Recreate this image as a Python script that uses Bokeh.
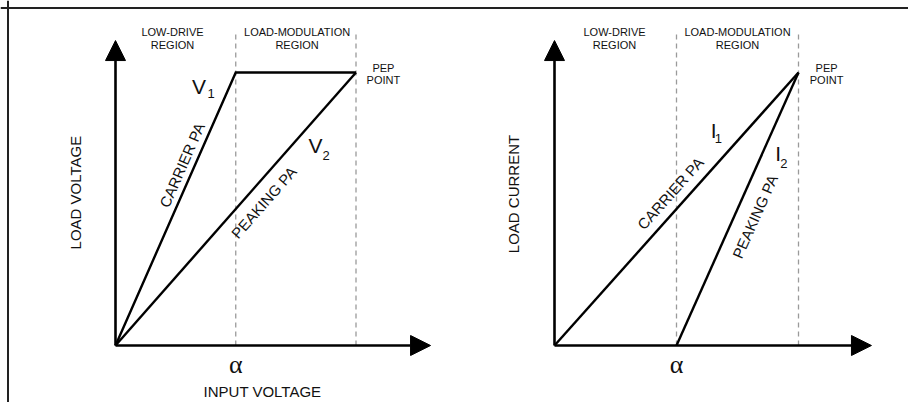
import math
from bokeh.plotting import figure
from bokeh.models import Range1d, Arrow, NormalHead, Span
from bokeh.embed import file_html
from bokeh.resources import INLINE
from bokeh.core.properties import value

# ---------------- data (normalised drive / load units) ----------------
ALPHA = 0.5          # transition point (input voltage)
PEP = 1.0            # peak-envelope-power point

left_carrier_x = [0.0, ALPHA, PEP]     # V1
left_carrier_y = [0.0, 1.0, 1.0]
left_peaking_x = [0.0, PEP]            # V2
left_peaking_y = [0.0, 1.0]

right_carrier_x = [0.0, PEP]           # I1
right_carrier_y = [0.0, 1.0]
right_peaking_x = [ALPHA, PEP]         # I2
right_peaking_y = [0.0, 1.0]

region_bounds = [ALPHA, PEP]
region_names = [["LOW-DRIVE", "REGION"], ["LOAD-MODULATION", "REGION"]]

# ---------------- layout ----------------
W, H = 908, 402
ORIG_L, ORIG_R, ORIG_Y = 115, 554, 57     # origins in canvas px (y from bottom)
UX_L, UX_R, UY = 240.5, 244.0, 273.0      # px per unit

x_left = Range1d(-ORIG_L / UX_L, (W - ORIG_L) / UX_L)
x_right = Range1d(-ORIG_R / UX_R, (W - ORIG_R) / UX_R)
y_rng = Range1d(-ORIG_Y / UY, (H - ORIG_Y) / UY)

p = figure(width=W, height=H, x_range=x_left, y_range=y_rng,
           output_backend="svg", toolbar_location=None,
           x_axis_location=None, y_axis_location=None, min_border=0)
p.extra_x_ranges = {"right": x_right}
p.grid.visible = False
p.outline_line_color = None
p.background_fill_color = "white"
p.border_fill_color = "white"

INK = "#111111"
SANS = value("Liberation Sans")
SERIF = value("Liberation Serif")

# frame lines of the picture (top and left)
p.add_layout(Span(location=(H - ORIG_Y - 7.5) / UY, dimension="width",
                  line_color="#222222", line_width=2))
p.add_layout(Span(location=(7.5 - ORIG_L) / UX_L, dimension="height",
                  line_color="#222222", line_width=2))


def angle(dx, dy, ux):
    return math.atan2(dy * UY, dx * ux)


panels = [
    dict(rn="default", ux=UX_L, xtip=1.31, ylabel="LOAD VOLTAGE", ylab_pos=(-0.166, 0.56),
         low_x=0.237, mod_x=0.755, pep_x=1.114,
         carrier=(left_carrier_x, left_carrier_y), peaking=(left_peaking_x, left_peaking_y),
         carrier_txt=(0.2765, 0.661, angle(left_carrier_x[1], left_carrier_y[1], UX_L)),
         peaking_txt=(0.617, 0.524, angle(left_peaking_x[1], left_peaking_y[1], UX_L)),
         sym="V", sym1=(0.347, 0.947, 0.398, 0.922), sym2=(0.832, 0.731, 0.876, 0.695),
         alpha_y=-0.068, xlabel="INPUT VOLTAGE", xlab_x=0.611),
    dict(rn="right", ux=UX_R, xtip=1.299, ylabel="LOAD CURRENT", ylab_pos=(-0.168, 0.555),
         low_x=0.246, mod_x=0.75, pep_x=1.115,
         carrier=(right_carrier_x, right_carrier_y), peaking=(right_peaking_x, right_peaking_y),
         carrier_txt=(0.475, 0.557, angle(right_carrier_x[1], right_carrier_y[1], UX_R)),
         peaking_txt=(0.822, 0.4725, angle(right_peaking_x[1] - right_peaking_x[0],
                                            right_peaking_y[1], UX_R)),
         sym="I", sym1=(0.652, 0.788, 0.672, 0.757), sym2=(0.917, 0.705, 0.94, 0.668),
         alpha_y=-0.068, xlabel=None, xlab_x=None),
]

for pn in panels:
    rn = pn["rn"]
    # dashed region boundaries
    for b in region_bounds:
        p.line([b, b], [0, 1.154], x_range_name=rn, line_color="#9a9a9a",
               line_width=1.3, line_dash="5 4")
    # axes with arrow heads
    p.add_layout(Arrow(end=NormalHead(size=20, fill_color="black", line_color="black"),
                       x_start=0, y_start=0, x_end=0, y_end=1.117, line_width=2.6,
                       line_color="black", x_range_name=rn))
    p.add_layout(Arrow(end=NormalHead(size=20, fill_color="black", line_color="black"),
                       x_start=0, y_start=0, x_end=pn["xtip"], y_end=0, line_width=2.6,
                       line_color="black", x_range_name=rn))
    # curves
    p.line(pn["carrier"][0], pn["carrier"][1], x_range_name=rn, line_color="black",
           line_width=2.4, line_join="miter")
    p.line(pn["peaking"][0], pn["peaking"][1], x_range_name=rn, line_color="black",
           line_width=2.4)

    # region headings
    xs, ys, tx = [], [], []
    for cx, names in zip([pn["low_x"], pn["mod_x"]], region_names):
        xs += [cx, cx]; ys += [1.147, 1.099]; tx += names
    xs += [pn["pep_x"], pn["pep_x"]]; ys += [1.018, 0.971]; tx += ["PEP", "POINT"]
    p.text(xs, ys, text=tx, x_range_name=rn, text_font=SANS, text_font_size="11px",
           text_align="center", text_baseline="middle", text_color=INK)

    # curve names along lines
    cx, cy, ca = pn["carrier_txt"]
    px_, py_, pa = pn["peaking_txt"]
    p.text([cx, px_], [cy, py_], text=["CARRIER PA", "PEAKING PA"], angle=[ca, pa],
           x_range_name=rn, text_font=SANS, text_font_size="15px",
           text_align="center", text_baseline="middle", text_color=INK)

    # y-axis label
    p.text([pn["ylab_pos"][0]], [pn["ylab_pos"][1]], text=[pn["ylabel"]], angle=[math.pi / 2],
           x_range_name=rn, text_font=SANS, text_font_size="15px",
           text_align="center", text_baseline="middle", text_color=INK)

    # symbols V1/V2 or I1/I2
    s1, s2 = pn["sym1"], pn["sym2"]
    p.text([s1[0], s2[0]], [s1[1], s2[1]], text=[pn["sym"], pn["sym"]], x_range_name=rn,
           text_font=SANS, text_font_size="21px", text_align="center",
           text_baseline="middle", text_color=INK)
    p.text([s1[2], s2[2]], [s1[3], s2[3]], text=["1", "2"], x_range_name=rn,
           text_font=SANS, text_font_size="13px", text_align="center",
           text_baseline="middle", text_color=INK)

    # alpha tick label
    p.text([ALPHA], [pn["alpha_y"]], text=["\u03b1"], x_range_name=rn, text_font=SERIF,
           text_font_size="26px", text_align="center", text_baseline="middle",
           text_color=INK)

    if pn["xlabel"]:
        p.text([pn["xlab_x"]], [-0.1685], text=[pn["xlabel"]], x_range_name=rn,
               text_font=SANS, text_font_size="15px", text_align="center",
               text_baseline="middle", text_color=INK)

open("out.html", "w").write(file_html(p, INLINE))
